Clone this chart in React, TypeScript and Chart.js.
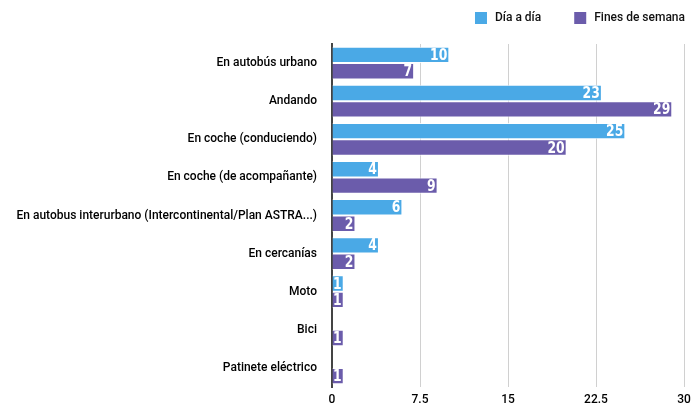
import React, { useEffect, useRef } from "react";
import { Chart, registerables } from "chart.js";

Chart.register(...registerables);

const categories = [
  "En autobús urbano",
  "Andando",
  "En coche (conduciendo)",
  "En coche (de acompañante)",
  "En autobus interurbano (Intercontinental/Plan ASTRA...)",
  "En cercanías",
  "Moto",
  "Bici",
  "Patinete eléctrico",
];
const diaADia = [10, 23, 25, 4, 6, 4, 1, 0, 0];
const finesDeSemana = [7, 29, 20, 9, 2, 2, 1, 1, 1];
const xTicks = [0, 7.5, 15, 22.5, 30];

const BLUE = "#4aa9e6";
const PURPLE = "#6b5cab";
const FONT = "Roboto";

const labelPlugin = {
  id: "barLabels",
  afterDatasetsDraw(chart: any) {
    const ctx = chart.ctx;
    chart.data.datasets.forEach((ds: any, di: number) => {
      const meta = chart.getDatasetMeta(di);
      meta.data.forEach((bar: any, i: number) => {
        const v = ds.data[i];
        if (!v) return;
        ctx.save();
        ctx.translate(bar.x - 2, bar.y + 1);
        ctx.scale(0.8, 1);
        ctx.font = "bold 15.5px 'DejaVu Sans', sans-serif";
        ctx.fillStyle = "#ffffff";
        ctx.textAlign = "right";
        ctx.textBaseline = "middle";
        ctx.fillText(String(v), 0, 0);
        ctx.restore();
      });
    });
  },
};

const legendPlugin = {
  id: "customLegend",
  afterDraw(chart: any) {
    const ctx = chart.ctx;
    const ds = chart.data.datasets;
    ctx.save();
    ctx.font = `500 12px ${FONT}`;
    ctx.textBaseline = "middle";
    ctx.textAlign = "left";
    const y = 18;
    const box = 12;
    const gapBoxText = 8;
    const gapItems = 33;
    const widths = ds.map((d: any) => box + gapBoxText + ctx.measureText(d.label).width);
    const total = widths.reduce((a: number, b: number) => a + b, 0) + gapItems * (ds.length - 1);
    let x = chart.chartArea.right + 1 - total;
    ds.forEach((d: any, i: number) => {
      ctx.fillStyle = d.backgroundColor;
      ctx.fillRect(x, y - box / 2, box, box);
      ctx.fillStyle = "#111";
      ctx.fillText(d.label, x + box + gapBoxText, y);
      x += widths[i] + gapItems;
    });
    ctx.restore();
  },
};

export default function App() {
  const ref = useRef<HTMLCanvasElement | null>(null);
  useEffect(() => {
    document.body.style.margin = "0";
    const chart = new Chart(ref.current as HTMLCanvasElement, {
      type: "bar",
      data: {
        labels: categories,
        datasets: [
          {
            label: "Día a día",
            data: diaADia,
            backgroundColor: BLUE,
            borderColor: "rgba(255,255,255,0.8)",
            borderWidth: 1,
            categoryPercentage: 0.86,
            barPercentage: 1,
          },
          {
            label: "Fines de semana",
            data: finesDeSemana,
            backgroundColor: PURPLE,
            borderColor: "rgba(255,255,255,0.8)",
            borderWidth: 1,
            categoryPercentage: 0.86,
            barPercentage: 1,
          },
        ],
      },
      options: {
        indexAxis: "y",
        animation: false,
        responsive: false,
        maintainAspectRatio: false,
        layout: { padding: { left: 0, right: 7, top: 44, bottom: 0 } },
        plugins: {
          tooltip: { enabled: false },
          legend: { display: false },
        },
        scales: {
          x: {
            min: 0,
            max: 30,
            afterBuildTicks(scale: any) {
              scale.ticks = xTicks.map((v) => ({ value: v }));
            },
            afterFit(scale: any) {
              scale.paddingRight = 0;
              scale.paddingLeft = 0;
              scale.height = 18;
            },
            ticks: {
              color: "#000",
              padding: 6,
              font: { family: FONT, size: 12, weight: "500" },
              callback: (v: any) => String(v),
            },
            grid: { color: "#d0d0d0", lineWidth: 1, drawTicks: false },
            border: { display: false },
          },
          y: {
            afterFit(scale: any) {
              scale.width = 332;
              scale.paddingTop = 0;
              scale.paddingBottom = 0;
            },
            ticks: {
              color: "#000",
              padding: 15,
              font: { family: FONT, size: 12, weight: "500" },
            },
            grid: { display: false, drawTicks: false },
            border: { display: true, color: "#444", width: 2 },
          },
        },
      },
      plugins: [labelPlugin, legendPlugin],
    } as any);
    return () => chart.destroy();
  }, []);
  return (
    <div style={{ position: "absolute", left: 0, top: 0, width: 691, height: 405 }}>
      <canvas ref={ref} width={691} height={405} />
    </div>
  );
}
